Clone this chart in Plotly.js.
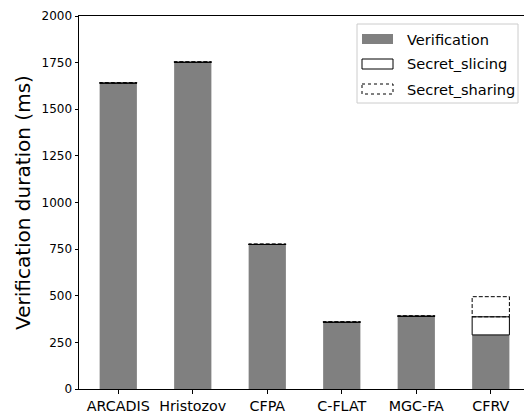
<!DOCTYPE html>
<html>
<head>
<meta charset="utf-8">
<script src="https://cdn.plot.ly/plotly-3.0.1.min.js"></script>
<style>html,body{margin:0;padding:0;background:#fff;}#chart{width:524px;height:414px;}</style>
</head>
<body>
<div id="chart"></div>
<script>
const categories = ["ARCADIS", "Hristozov", "CFPA", "C-FLAT", "MGC-FA", "CFRV"];
const verification = [1640, 1752, 775, 358, 390, 290];
const secretSlicing = [0, 0, 0, 0, 0, 97];
const secretSharing = [3, 3, 3, 3, 3, 108];
const seriesNames = ["Verification", "Secret_slicing", "Secret_sharing"];

const xIdx = categories.map((c, i) => i);
const barWidth = 0.5;
const FONT = "DejaVu Sans, sans-serif";

// plot area in pixels
const L = 79, T = 16, W = 524, H = 414, B = 25;
const plotW = W - L, plotH = H - T - B;
const px = x => (x - L) / plotW;
const py = y => (H - B - y) / plotH;

const baseSharing = verification.map((v, i) => v + secretSlicing[i]);

const traces = [
  {type: "bar", x: xIdx, y: verification, name: seriesNames[0], width: barWidth,
   marker: {color: "#808080", line: {width: 0}}, showlegend: false, hoverinfo: "y"},
  {type: "bar", x: xIdx, y: secretSlicing, base: verification, name: seriesNames[1], width: barWidth,
   marker: {color: "#ffffff", line: {color: "#000000", width: 1}}, showlegend: false, hoverinfo: "y"},
  {type: "bar", x: xIdx, y: secretSharing, base: baseSharing, name: seriesNames[2], width: barWidth,
   marker: {color: "rgba(255,255,255,0)", line: {width: 0}}, showlegend: false, hoverinfo: "y"}
];

const shapes = [];
// dashed outlines for Secret_sharing segments (from the data arrays)
xIdx.forEach((x, i) => {
  shapes.push({type: "rect", xref: "x", yref: "y",
    x0: x - barWidth / 2, x1: x + barWidth / 2,
    y0: baseSharing[i], y1: baseSharing[i] + secretSharing[i],
    line: {color: "#000", width: 1, dash: "4px,2px"}, fillcolor: "rgba(0,0,0,0)"});
});

// custom legend (matplotlib style)
shapes.push({type: "rect", xref: "paper", yref: "paper",
  x0: px(357), x1: px(518), y0: py(24), y1: py(103),
  line: {color: "#cccccc", width: 1}, fillcolor: "rgba(255,255,255,0.8)", layer: "above"});
const legY = [39, 64, 89];
const patchStyles = [
  {fillcolor: "#808080", line: {width: 0}},
  {fillcolor: "#ffffff", line: {color: "#000", width: 1}},
  {fillcolor: "#ffffff", line: {color: "#000", width: 1, dash: "3px,3px"}}
];
const annotations = [];
legY.forEach((yy, k) => {
  shapes.push(Object.assign({type: "rect", xref: "paper", yref: "paper", layer: "above",
    x0: px(362), x1: px(393), y0: py(yy - 5), y1: py(yy + 5)}, patchStyles[k]));
  annotations.push({xref: "paper", yref: "paper", x: px(405), y: py(yy), xanchor: "left", yanchor: "middle",
    text: seriesNames[k], showarrow: false, font: {family: FONT, size: 14.6, color: "#000"}});
});

const layout = {
  width: W, height: H,
  margin: {l: L, r: 0, t: T, b: B, pad: 0},
  paper_bgcolor: "#fff", plot_bgcolor: "#fff",
  barmode: "overlay",
  showlegend: false,
  font: {family: FONT, color: "#000"},
  xaxis: {
    range: [-0.527, 5.446], tickmode: "array", tickvals: xIdx, ticktext: categories,
    showgrid: false, zeroline: false, showline: true, linecolor: "#000", linewidth: 1, mirror: true,
    ticks: "outside", ticklen: 3.5, tickwidth: 1, tickcolor: "#000",
    tickfont: {family: FONT, size: 14.3, color: "#000"}
  },
  yaxis: {
    range: [0, 2000], dtick: 250, tick0: 0,
    showgrid: false, zeroline: false, showline: true, linecolor: "#000", linewidth: 1,
    ticks: "outside", ticklen: 3.5, tickwidth: 1, tickcolor: "#000",
    tickfont: {family: FONT, size: 12, color: "#000"},
    title: {text: "Verification duration (ms)", font: {family: FONT, size: 20, color: "#000"}, standoff: 5}
  },
  shapes: shapes,
  annotations: annotations
};

Plotly.newPlot("chart", traces, layout, {displayModeBar: false, staticPlot: true});
</script>
</body>
</html>
